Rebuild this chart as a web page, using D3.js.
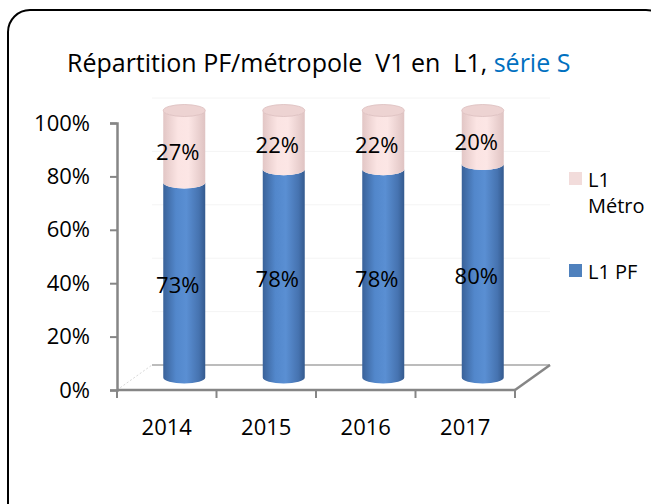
<!DOCTYPE html>
<html>
<head>
<meta charset="utf-8">
<script src="https://cdn.jsdelivr.net/npm/d3@7"></script>
<style>
  html, body { margin: 0; padding: 0; background: #fff; }
  svg { display: block; font-family: "Open Sans", "Noto Sans", sans-serif; }
</style>
</head>
<body>
<div id="chart"></div>
<script>
// ── Data ──
const years    = ["2014", "2015", "2016", "2017"];
const pfShare  = [0.73, 0.78, 0.78, 0.80];
const metShare = [0.27, 0.22, 0.22, 0.20];
const yTicks   = [0, 0.2, 0.4, 0.6, 0.8, 1];

const W = 651, H = 504;
const DX = 35, DY = -25;          // 3D depth offset
const AXIS = "#868686";

const svg = d3.select("#chart").append("svg")
  .attr("width", W).attr("height", H);

// ── Gradients ──
const defs = svg.append("defs");
function hGrad(id, stops) {
  const g = defs.append("linearGradient").attr("id", id)
    .attr("x1", "0%").attr("x2", "100%").attr("y1", "0%").attr("y2", "0%");
  stops.forEach(([o, c]) => g.append("stop").attr("offset", o).attr("stop-color", c));
}
hGrad("gBlue", [["0%", "#3A6299"], ["30%", "#5287CB"], ["55%", "#5A8FD3"], ["85%", "#4673B0"], ["100%", "#345A8E"]]);
hGrad("gPink", [["0%", "#E2C6C5"], ["35%", "#FBE4E3"], ["60%", "#FCE6E5"], ["100%", "#DFC3C2"]]);

// ── Border ──
svg.append("rect")
  .attr("x", 8).attr("y", 10)
  .attr("width", 660).attr("height", 520)
  .attr("rx", 22).attr("ry", 22)
  .attr("fill", "none")
  .attr("stroke", "#000")
  .attr("stroke-width", 2);

// ── Title ──
const title = svg.append("text")
  .attr("x", 67).attr("y", 72)
  .attr("xml:space", "preserve")
  .style("white-space", "pre")
  .style("font-size", "25px")
  .style("fill", "#000");
title.append("tspan").text("Répartition PF/métropole  V1 en  L1, ");
title.append("tspan").style("fill", "#0070C0").text("série S");

// ── Scales ──
const x = d3.scaleBand().domain(years).range([117, 515]);
const y = d3.scaleLinear().domain([0, 1]).range([390, 123]);

// ── Back wall gridlines ──
yTicks.slice(1).forEach(t => {
  svg.append("line")
    .attr("x1", 117 + DX).attr("x2", 515 + DX)
    .attr("y1", y(t) + DY).attr("y2", y(t) + DY)
    .attr("stroke", "#F4F4F4").attr("stroke-width", 1);
});

// ── Floor ──
svg.append("line")
  .attr("x1", 117 + DX).attr("x2", 515 + DX)
  .attr("y1", y(0) + DY).attr("y2", y(0) + DY)
  .attr("stroke", "#A6A6A6").attr("stroke-width", 1.5);
svg.append("line")
  .attr("x1", 117).attr("x2", 117 + DX)
  .attr("y1", y(0)).attr("y2", y(0) + DY)
  .attr("stroke", "#D9D9D9").attr("stroke-width", 1)
  .attr("stroke-dasharray", "2 2");
svg.append("line")
  .attr("x1", 515).attr("x2", 515 + DX)
  .attr("y1", y(0)).attr("y2", y(0) + DY)
  .attr("stroke", AXIS).attr("stroke-width", 2.5);

// ── Cylinders ──
const RX = 21, RY = 6;
function body(cx, yb, yt) {
  return `M${cx - RX},${yb} L${cx - RX},${yt} ` +
         `A${RX},${RY} 0 0 0 ${cx + RX},${yt} ` +
         `L${cx + RX},${yb} ` +
         `A${RX},${RY} 0 0 1 ${cx - RX},${yb} Z`;
}

years.forEach((yr, i) => {
  const cx = x(yr) + x.bandwidth() / 2 + DX / 2;
  const off = DY / 2;
  const y0 = y(0) + off, y1 = y(pfShare[i]) + off, y2 = y(pfShare[i] + metShare[i]) + off;

  svg.append("path").attr("d", body(cx, y0, y1)).attr("fill", "url(#gBlue)");
  svg.append("path").attr("d", body(cx, y1, y2)).attr("fill", "url(#gPink)");
  svg.append("ellipse")
    .attr("cx", cx).attr("cy", y2)
    .attr("rx", RX).attr("ry", RY)
    .attr("fill", "#EDD3D2")
    .attr("stroke", "#DBBDBC").attr("stroke-width", 0.8);
});

// ── Axes ──
const yAxis = svg.append("g")
  .attr("transform", "translate(117,0)")
  .call(d3.axisLeft(y).tickValues(yTicks).tickFormat(d3.format(".0%")).tickSize(7).tickPadding(20));
yAxis.select(".domain").attr("stroke", AXIS).attr("stroke-width", 2.5);
yAxis.selectAll(".tick line").attr("stroke", AXIS).attr("stroke-width", 2);
yAxis.selectAll(".tick text")
  .style("font-family", "'Open Sans', sans-serif")
  .style("font-size", "22px").style("fill", "#000");

// front floor edge
svg.append("line")
  .attr("x1", 117).attr("x2", 515)
  .attr("y1", y(0)).attr("y2", y(0))
  .attr("stroke", AXIS).attr("stroke-width", 2.5);

// category ticks at band boundaries
const bounds = years.map(d => x(d)).concat([x.range()[1]]);
bounds.forEach(b => {
  svg.append("line")
    .attr("x1", b).attr("x2", b)
    .attr("y1", y(0)).attr("y2", y(0) + 8)
    .attr("stroke", AXIS).attr("stroke-width", 2);
});

const xAxis = svg.append("g")
  .attr("transform", `translate(0,${y(0)})`)
  .call(d3.axisBottom(x).tickSize(0).tickPadding(29));
xAxis.select(".domain").remove();
xAxis.selectAll(".tick text")
  .style("font-family", "'Open Sans', sans-serif")
  .style("font-size", "22px").style("fill", "#000");

// ── Value labels ──
years.forEach((yr, i) => {
  const lx = x(yr) + x.bandwidth() / 2 + 11;
  [[0, pfShare[i]], [pfShare[i], metShare[i]]].forEach(([base, v]) => {
    svg.append("text")
      .attr("x", lx)
      .attr("y", y(base + v / 2) - 7)
      .attr("dy", "0.35em")
      .attr("text-anchor", "middle")
      .style("font-size", "22px")
      .style("fill", "#000")
      .text(Math.round(v * 100) + "%");
  });
});

// ── Legend ──
const legend = svg.append("g");
const legendItems = [
  { color: "#F2DCDB", lines: ["L1", "Métro"], y: 172 },
  { color: "#4F81BD", lines: ["L1 PF"], y: 264 }
];
legendItems.forEach(it => {
  legend.append("rect")
    .attr("x", 569).attr("y", it.y)
    .attr("width", 13).attr("height", 13)
    .attr("fill", it.color);
  it.lines.forEach((ln, j) => {
    legend.append("text")
      .attr("x", 588).attr("y", it.y + 15 + j * 26)
      .style("font-size", "20px")
      .style("fill", "#000")
      .text(ln);
  });
});
</script>
</body>
</html>
